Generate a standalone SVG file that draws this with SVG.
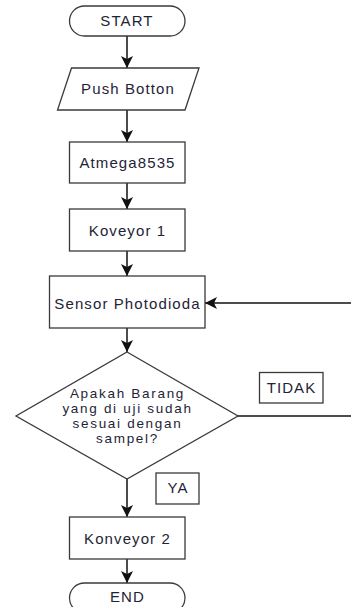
<svg xmlns="http://www.w3.org/2000/svg" width="351" height="607" viewBox="0 0 351 607">
  <defs>
    <marker id="arrow" markerUnits="userSpaceOnUse" markerWidth="13" markerHeight="13" refX="12" refY="6" orient="auto">
      <path d="M0,0 L12,6 L0,12 L3,6 z" fill="#111"/>
    </marker>
  </defs>
  <style>
    .shape { fill: #fff; stroke: #3a3a3a; stroke-width: 1.3; }
    .label { font-family: "Liberation Sans", Arial, sans-serif; font-size: 15px; letter-spacing: 1.1px; fill: #1e2436; text-anchor: middle; }
    .small { font-size: 13.5px; letter-spacing: 1.7px; }
    .edge { fill: none; stroke: #111; stroke-width: 1.5; }
  </style>
  <rect width="351" height="607" fill="#fff"/>

  <!-- connectors -->
  <g id="connectors">
    <line class="edge" x1="127" y1="36" x2="127" y2="68" marker-end="url(#arrow)"/>
    <line class="edge" x1="127" y1="110" x2="127" y2="142" marker-end="url(#arrow)"/>
    <line class="edge" x1="127" y1="183" x2="127" y2="209" marker-end="url(#arrow)"/>
    <line class="edge" x1="127" y1="251" x2="127" y2="276" marker-end="url(#arrow)"/>
    <line class="edge" x1="127" y1="328" x2="127" y2="352" marker-end="url(#arrow)"/>
    <line class="edge" x1="127" y1="479" x2="127" y2="517" marker-end="url(#arrow)"/>
    <line class="edge" x1="127" y1="559" x2="127" y2="583" marker-end="url(#arrow)"/>
    <!-- loop back from the decision to the sensor -->
    <line class="edge" x1="238" y1="416" x2="351" y2="416"/>
    <line class="edge" x1="351" y1="303" x2="205" y2="303" marker-end="url(#arrow)"/>
  </g>

  <g id="start">
    <rect class="shape" x="69.5" y="6" width="115.5" height="30" rx="15" ry="15"/>
    <text class="label" x="127" y="26">START</text>
  </g>

  <g id="push-botton">
    <polygon class="shape" points="71.5,68 199,68 185,110 57.5,110"/>
    <text class="label" x="128" y="93.5">Push Botton</text>
  </g>

  <g id="atmega">
    <rect class="shape" x="69.5" y="142" width="115.5" height="41"/>
    <text class="label" x="127.5" y="167.5">Atmega8535</text>
  </g>

  <g id="konveyor-1">
    <rect class="shape" x="69.5" y="209" width="115.5" height="42"/>
    <text class="label" x="127.5" y="235.5">Koveyor 1</text>
  </g>

  <g id="sensor">
    <rect class="shape" x="49.5" y="276" width="155.5" height="52"/>
    <text class="label" x="127.5" y="308.5">Sensor Photodioda</text>
  </g>

  <g id="decision">
    <polygon class="shape" points="127,352 238,416 127,479 16,416"/>
    <text class="label small" x="127.5" y="397.5">Apakah Barang</text>
    <text class="label small" x="127.5" y="412.7">yang di uji sudah</text>
    <text class="label small" x="127.5" y="427.9">sesuai dengan</text>
    <text class="label small" x="127.5" y="443.1">sampel?</text>
  </g>

  <g id="label-tidak">
    <rect class="shape" x="259.5" y="372.5" width="63.5" height="30.5"/>
    <text class="label" x="291.5" y="393">TIDAK</text>
  </g>

  <g id="label-ya">
    <rect class="shape" x="156" y="473" width="43" height="31"/>
    <text class="label" x="178" y="493">YA</text>
  </g>

  <g id="konveyor-2">
    <rect class="shape" x="69.5" y="517" width="115.5" height="42"/>
    <text class="label" x="127.5" y="543.5">Konveyor 2</text>
  </g>

  <g id="end">
    <rect class="shape" x="69.5" y="583" width="115.5" height="30" rx="15" ry="15"/>
    <text class="label" x="127.5" y="601.5">END</text>
  </g>
</svg>
